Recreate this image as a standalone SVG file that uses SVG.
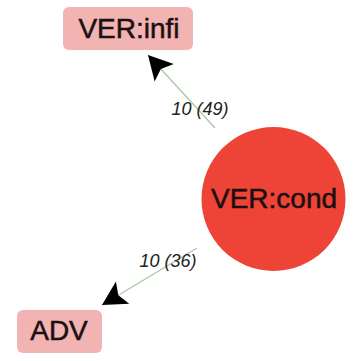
<svg xmlns="http://www.w3.org/2000/svg" width="356" height="361" viewBox="0 0 356 361">
<style>
.box{fill:#f2b3b3;}
.lbl{font-family:"Liberation Sans",Arial,sans-serif;font-size:28px;fill:#1a1010;stroke:#1a1010;stroke-width:0.5;text-anchor:middle;}
.edge{stroke:#a9c9a4;stroke-width:1.3;fill:none;marker-end:url(#arr);}
.elbl{font-family:"Liberation Sans",Arial,sans-serif;font-size:18px;font-style:italic;fill:#222;text-anchor:middle;}
</style>
<defs>
<marker id="arr" markerUnits="userSpaceOnUse" markerWidth="30" markerHeight="30" viewBox="-2 -15 28 30" refX="24" refY="0" orient="auto">
<path d="M0,-13 L24,0 L0,13 L5,0 Z" fill="#000"/>
</marker>
</defs>
<rect width="356" height="361" fill="#fff"/>
<g id="connectors">
<line class="edge" x1="215" y1="128" x2="148" y2="55"/>
<text class="elbl" x="200" y="115">10 (49)</text>
<line class="edge" x1="197" y1="248" x2="102" y2="305"/>
<text class="elbl" x="168" y="267">10 (36)</text>
</g>
<g id="node-verinfi">
<rect class="box" x="63" y="7" width="130" height="43" rx="6"/>
<text class="lbl" x="129" y="38">VER:infi</text>
</g>
<g id="node-vercond">
<circle cx="273.5" cy="199" r="72" fill="#ee4337"/>
<text class="lbl" x="274" y="208">VER:cond</text>
</g>
<g id="node-adv">
<rect class="box" x="17" y="310" width="85" height="43" rx="6"/>
<text class="lbl" x="59" y="340">ADV</text>
</g>
</svg>
